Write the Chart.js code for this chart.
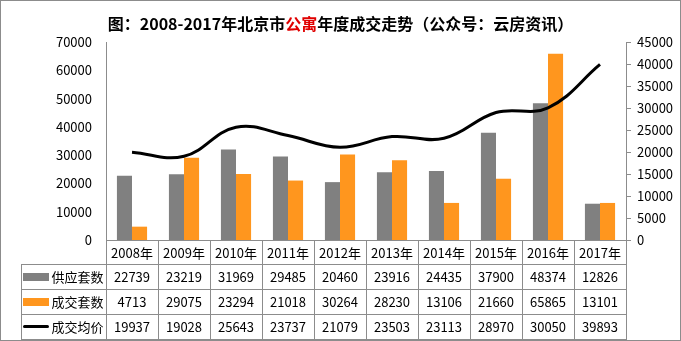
<!DOCTYPE html>
<html>
<head>
<meta charset="utf-8">
<script src="https://cdn.jsdelivr.net/npm/chart.js@4/dist/chart.umd.min.js"></script>
<style>
  html, body { margin: 0; padding: 0; background: #fff; }
  #wrap { position: relative; width: 681px; height: 341px; overflow: hidden;
          font-family: "Noto Sans CJK SC", "Microsoft YaHei", sans-serif; }
  #frame { position: absolute; left: 0; top: 0; width: 679px; height: 339px; border: 1px solid #8c8c8c; pointer-events: none; }
  #title { position: absolute; left: 0; top: 11px; width: 681px; text-align: center;
           font-size: 16px; font-weight: bold; color: #000; line-height: 24px; }
  #title .red { color: #e00000; }
  canvas { position: absolute; left: 0; top: 0; }
  .cell { position: absolute; box-sizing: border-box; font-size: 13px; color: #000;
          display: flex; align-items: center; justify-content: center; white-space: nowrap; }
  .hl { position: absolute; height: 1px; background: #8c8c8c; }
  .vl { position: absolute; width: 1px; background: #8c8c8c; }
  .sw { display: inline-block; margin-right: 2px; }
</style>
</head>
<body>
<div id="wrap">
  <canvas id="c" width="681" height="341"></canvas>
  <div id="title">图：2008-2017年北京市<span class="red">公寓</span>年度成交走势（公众号：云房资讯）</div>
  <div id="table"></div>
  <div id="frame"></div>
</div>
<script>
const years = ['2008年', '2009年', '2010年', '2011年', '2012年', '2013年', '2014年', '2015年', '2016年', '2017年'];
const supply = [22739, 23219, 31969, 29485, 20460, 23916, 24435, 37900, 48374, 12826];
const deals = [4713, 29075, 23294, 21018, 30264, 28230, 13106, 21660, 65865, 13101];
const avgPrice = [19937, 19028, 25643, 23737, 21079, 23503, 23113, 28970, 30050, 39893];
const leftTicks = [0, 10000, 20000, 30000, 40000, 50000, 60000, 70000];
const rightTicks = [0, 5000, 10000, 15000, 20000, 25000, 30000, 35000, 40000, 45000];

const GRAY = '#808080';
const ORANGE = '#ff961e';
const AXIS = '#8c8c8c';
const tickFont = { family: '"Noto Sans CJK SC", sans-serif', size: 13 };

const chart = new Chart(document.getElementById('c'), {
    data: {
        labels: years,
        datasets: [
            { type: 'line', label: '成交均价', data: avgPrice, yAxisID: 'y1', borderColor: '#000',
              borderWidth: 3, pointRadius: 0, tension: 0.4, cubicInterpolationMode: 'default', order: 0 },
            { type: 'bar', label: '供应套数', data: supply, yAxisID: 'y', backgroundColor: GRAY, order: 1 },
            { type: 'bar', label: '成交套数', data: deals, yAxisID: 'y', backgroundColor: ORANGE, order: 1 }
        ]
    },
    options: {
        responsive: false,
        animation: false,
        layout: { padding: { top: 42, bottom: 101, left: 0, right: 0 } },
        datasets: { bar: { categoryPercentage: 0.58, barPercentage: 1 } },
        plugins: { legend: { display: false }, tooltip: { enabled: false } },
        scales: {
            x: {
                ticks: { display: false },
                grid: { display: false },
                border: { display: true, color: AXIS },
                afterFit: s => { s.height = 0; }
            },
            y: {
                position: 'left', min: 0, max: 70000,
                afterBuildTicks: s => { s.ticks = leftTicks.map(v => ({ value: v })); },
                ticks: { color: '#000', font: tickFont, padding: 14, callback: v => String(v) },
                grid: { display: false, drawTicks: false },
                border: { display: true, color: AXIS },
                afterFit: s => { s.width = 106; }
            },
            y1: {
                position: 'right', min: 0, max: 45000,
                afterBuildTicks: s => { s.ticks = rightTicks.map(v => ({ value: v })); },
                ticks: { color: '#000', font: tickFont, padding: 6, callback: v => String(v) },
                grid: { drawOnChartArea: false, drawTicks: true, tickLength: 5, color: AXIS },
                border: { display: true, color: AXIS },
                afterFit: s => { s.width = 55; }
            }
        }
    }
});

// data table under the plot, aligned to the x scale
const table = document.getElementById('table');
const area = chart.chartArea;
const colW = (area.right - area.left) / years.length;
const rowTop = [240, 264, 289, 314, 339];
const labelLeft = 21;

function addDiv(cls, style, html) {
    const d = document.createElement('div');
    d.className = cls;
    Object.assign(d.style, style);
    if (html !== undefined) d.innerHTML = html;
    table.appendChild(d);
    return d;
}

// grid lines
addDiv('hl', { left: area.left + 'px', top: rowTop[0] + 'px', width: (area.right - area.left) + 'px' });
for (let r = 1; r < rowTop.length; r++) {
    addDiv('hl', { left: labelLeft + 'px', top: rowTop[r] + 'px', width: (area.right - labelLeft + 1) + 'px' });
}
addDiv('vl', { left: labelLeft + 'px', top: rowTop[1] + 'px', height: (rowTop[4] - rowTop[1]) + 'px' });
for (let i = 0; i <= years.length; i++) {
    const x = Math.round(area.left + i * colW);
    addDiv('vl', { left: x + 'px', top: rowTop[0] + 'px', height: (rowTop[4] - rowTop[0]) + 'px' });
}

const rows = [
    { name: '供应套数', values: supply, swatch: `<span class="sw" style="width:26px;height:8px;background:${GRAY}"></span>` },
    { name: '成交套数', values: deals, swatch: `<span class="sw" style="width:26px;height:8px;background:${ORANGE}"></span>` },
    { name: '成交均价', values: avgPrice, swatch: `<span class="sw" style="width:26px;height:3px;background:#000;border-radius:2px"></span>` }
];

years.forEach((y, i) => {
    addDiv('cell', { left: (area.left + i * colW) + 'px', top: rowTop[0] + 'px', width: colW + 'px', height: (rowTop[1] - rowTop[0]) + 'px' }, y);
});
rows.forEach((row, r) => {
    const top = rowTop[r + 1], h = rowTop[r + 2] - top;
    addDiv('cell', { left: labelLeft + 'px', top: top + 'px', width: (area.left - labelLeft) + 'px', height: h + 'px' }, row.swatch + row.name);
    row.values.forEach((v, i) => {
        addDiv('cell', { left: (area.left + i * colW) + 'px', top: top + 'px', width: colW + 'px', height: h + 'px' }, String(v));
    });
});
</script>
</body>
</html>
